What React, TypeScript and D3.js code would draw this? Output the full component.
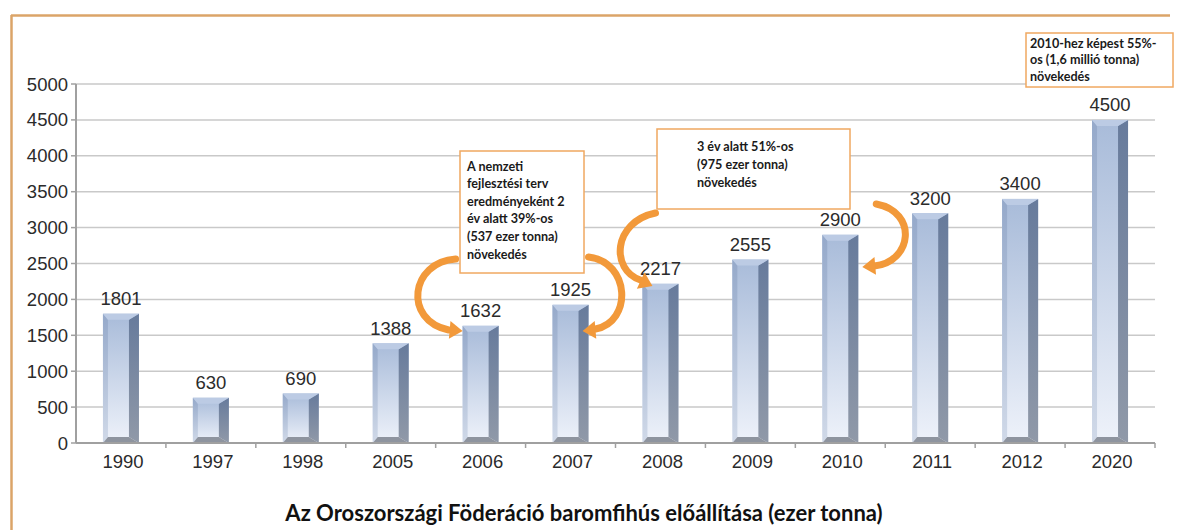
import React from "react";
import * as d3 from "d3";

const categories = ["1990", "1997", "1998", "2005", "2006", "2007", "2008", "2009", "2010", "2011", "2012", "2020"];
const values = [1801, 630, 690, 1388, 1632, 1925, 2217, 2555, 2900, 3200, 3400, 4500];
const yTicks = [0, 500, 1000, 1500, 2000, 2500, 3000, 3500, 4000, 4500, 5000];
const title = "Az Oroszországi Föderáció baromfihús előállítása (ezer tonna)";
const note1 = ["A nemzeti", "fejlesztési terv", "eredményeként 2", "év alatt 39%-os", "(537 ezer tonna)", "növekedés"];
const note2 = ["3 év alatt 51%-os", "(975 ezer tonna)", "növekedés"];
const note3 = ["2010-hez képest 55%-", "os (1,6 millió tonna)", "növekedés"];

const W = 1181, H = 530;
const plotL = 76, plotR = 1155, plotT = 84, plotB = 443;
const ORANGE = "#f2993a";
const NOTE_FONT = "Lato, 'Open Sans', sans-serif";
const AX_FONT = "'Liberation Sans', Arial, sans-serif";

function Bar({ cx, yTop, y0 }: { cx: number; yTop: number; y0: number }) {
  const w = 36, bl = 5, br = 10, bt = 6;
  const x0 = cx - w / 2, x1 = cx + w / 2;
  const pts = (a: number[][]) => a.map(p => p.join(",")).join(" ");
  return (
    <g>
      <rect x={x0} y={yTop} width={w} height={y0 - yTop} fill="url(#faceGrad)" />
      <polygon points={pts([[x0, yTop], [x0 + bl, yTop + bt], [x0 + bl, y0 - bt], [x0, y0]])} fill="url(#leftGrad)" />
      <polygon points={pts([[x1, yTop], [x1 - br, yTop + bt], [x1 - br, y0 - bt], [x1, y0]])} fill="url(#rightGrad)" />
      <polygon points={pts([[x0, yTop], [x1, yTop], [x1 - br, yTop + bt], [x0 + bl, yTop + bt]])} fill="#bccbe4" />
      <polygon points={pts([[x0, y0], [x1, y0], [x1 - br, y0 - bt], [x0 + bl, y0 - bt]])} fill="#8e949f" />
    </g>
  );
}

function Arrow({ d, tip, dir }: { d: string; tip: [number, number]; dir: number }) {
  const [tx, ty] = tip;
  const head = [[0, 0], [-13, -9], [-13, 9]];
  const rad = (dir * Math.PI) / 180;
  const p = head
    .map(([x, y]) => [tx + x * Math.cos(rad) - y * Math.sin(rad), ty + x * Math.sin(rad) + y * Math.cos(rad)])
    .map(q => q.join(","))
    .join(" ");
  return (
    <g>
      <path d={d} fill="none" stroke={ORANGE} strokeWidth={7} strokeLinecap="round" />
      <polygon points={p} fill={ORANGE} />
    </g>
  );
}

function Note({ x, y, w, h, lines, tx, ty, lh }: { x: number; y: number; w: number; h: number; lines: string[]; tx: number; ty: number; lh: number }) {
  return (
    <g>
      <rect x={x} y={y} width={w} height={h} fill="#fff" stroke="#f0a860" strokeWidth={1.5} />
      {lines.map((l, i) => (
        <text key={i} x={tx} y={ty + i * lh} fontFamily={NOTE_FONT} fontWeight={700} fontSize={12.6} fill="#1a1a1a" dominantBaseline="central">
          {l}
        </text>
      ))}
    </g>
  );
}

export default function App() {
  const x = d3.scaleBand<string>().domain(categories).range([plotL, plotR]).padding(0);
  const y = d3.scaleLinear().domain([0, 5000]).range([plotB, plotT]);
  const cx = (c: string) => (x(c) as number) + x.bandwidth() / 2;

  const c06 = cx("2006"), c07 = cx("2007"), c08 = cx("2008"), c10 = cx("2010");

  return (
    <svg width={W} height={H} style={{ position: "absolute", left: 0, top: 0, background: "#fff" }}>
      <defs>
        <linearGradient id="faceGrad" x1="0" y1="0" x2="0" y2="1">
          <stop offset="0" stopColor="#a8bbd9" />
          <stop offset="1" stopColor="#eef2fa" />
        </linearGradient>
        <linearGradient id="leftGrad" x1="0" y1="0" x2="0" y2="1">
          <stop offset="0" stopColor="#95a9ca" />
          <stop offset="1" stopColor="#d0d9e8" />
        </linearGradient>
        <linearGradient id="rightGrad" x1="0" y1="0" x2="0" y2="1">
          <stop offset="0" stopColor="#677b9c" />
          <stop offset="1" stopColor="#9099a8" />
        </linearGradient>
      </defs>

      {/* frame */}
      <line x1={11} y1={15.5} x2={1170} y2={15.5} stroke="#dba468" strokeWidth={2.5} />
      <line x1={11.5} y1={15} x2={11.5} y2={H} stroke="#dba468" strokeWidth={2.5} />

      {/* gridlines */}
      {yTicks.map(t => (
        <g key={t}>
          {t > 0 && <line x1={plotL} x2={plotR} y1={y(t)} y2={y(t)} stroke="#c9c9c9" strokeWidth={1.5} />}
          <line x1={plotL - 5} x2={plotL} y1={y(t)} y2={y(t)} stroke="#a0a0a0" strokeWidth={1.5} />
          <text x={plotL - 8} y={y(t)} textAnchor="end" dominantBaseline="central" fontFamily={AX_FONT} fontSize={18.5} fill="#2b2b2b">
            {t}
          </text>
        </g>
      ))}

      {/* bars */}
      {categories.map((c, i) => (
        <g key={c}>
          <Bar cx={cx(c)} yTop={y(values[i])} y0={plotB} />
          <text x={cx(c)} y={y(values[i]) - 15} textAnchor="middle" dominantBaseline="central" fontFamily={AX_FONT} fontSize={18.5} fill="#2b2b2b">
            {values[i]}
          </text>
        </g>
      ))}

      {/* axes */}
      <line x1={plotL} x2={plotL} y1={plotT} y2={plotB} stroke="#a0a0a0" strokeWidth={2} />
      <line x1={plotL} x2={plotR} y1={plotB} y2={plotB} stroke="#a0a0a0" strokeWidth={2} />
      {categories.map(c => (
        <line key={c} x1={(x(c) as number) + x.bandwidth()} x2={(x(c) as number) + x.bandwidth()} y1={plotB} y2={plotB + 5} stroke="#a0a0a0" strokeWidth={1.5} />
      ))}
      {categories.map(c => (
        <text key={c} x={cx(c) + 2} y={plotB + 18} textAnchor="middle" dominantBaseline="central" fontFamily={AX_FONT} fontSize={18.5} fill="#2b2b2b">
          {c}
        </text>
      ))}

      {/* arrows */}
      <Arrow d={`M ${c06 - 25} ${259} C ${c06 - 70} ${262}, ${c06 - 78} ${320}, ${c06 - 32} ${330}`} tip={[c06 - 18, 331]} dir={5} />
      <Arrow d={`M ${c07 + 18} ${257} C ${c07 + 60} ${262}, ${c07 + 62} ${322}, ${c07 + 25} ${329}`} tip={[c07 + 12, 331]} dir={175} />
      <Arrow d={`M ${c08 - 5} ${213} C ${c08 - 48} ${222}, ${c08 - 50} ${270}, ${c08 - 20} ${280}`} tip={[c08 - 8, 286]} dir={25} />
      <Arrow d={`M ${c10 + 36} ${204} C ${c10 + 78} ${212}, ${c10 + 72} ${262}, ${c10 + 34} ${266}`} tip={[c10 + 22, 267]} dir={175} />

      {/* notes */}
      <Note x={460} y={151} w={124} h={122} lines={note1} tx={467} ty={166} lh={17.6} />
      <Note x={657} y={129} w={193} h={80} lines={note2} tx={697} ty={146} lh={18} />
      <Note x={1026} y={33} w={147} h={54} lines={note3} tx={1030} ty={43} lh={16.5} />

      {/* title */}
      <text x={584} y={512} textAnchor="middle" dominantBaseline="central" fontFamily={NOTE_FONT} fontWeight={700} fontSize={22} fill="#111">
        {title}
      </text>
    </svg>
  );
}
